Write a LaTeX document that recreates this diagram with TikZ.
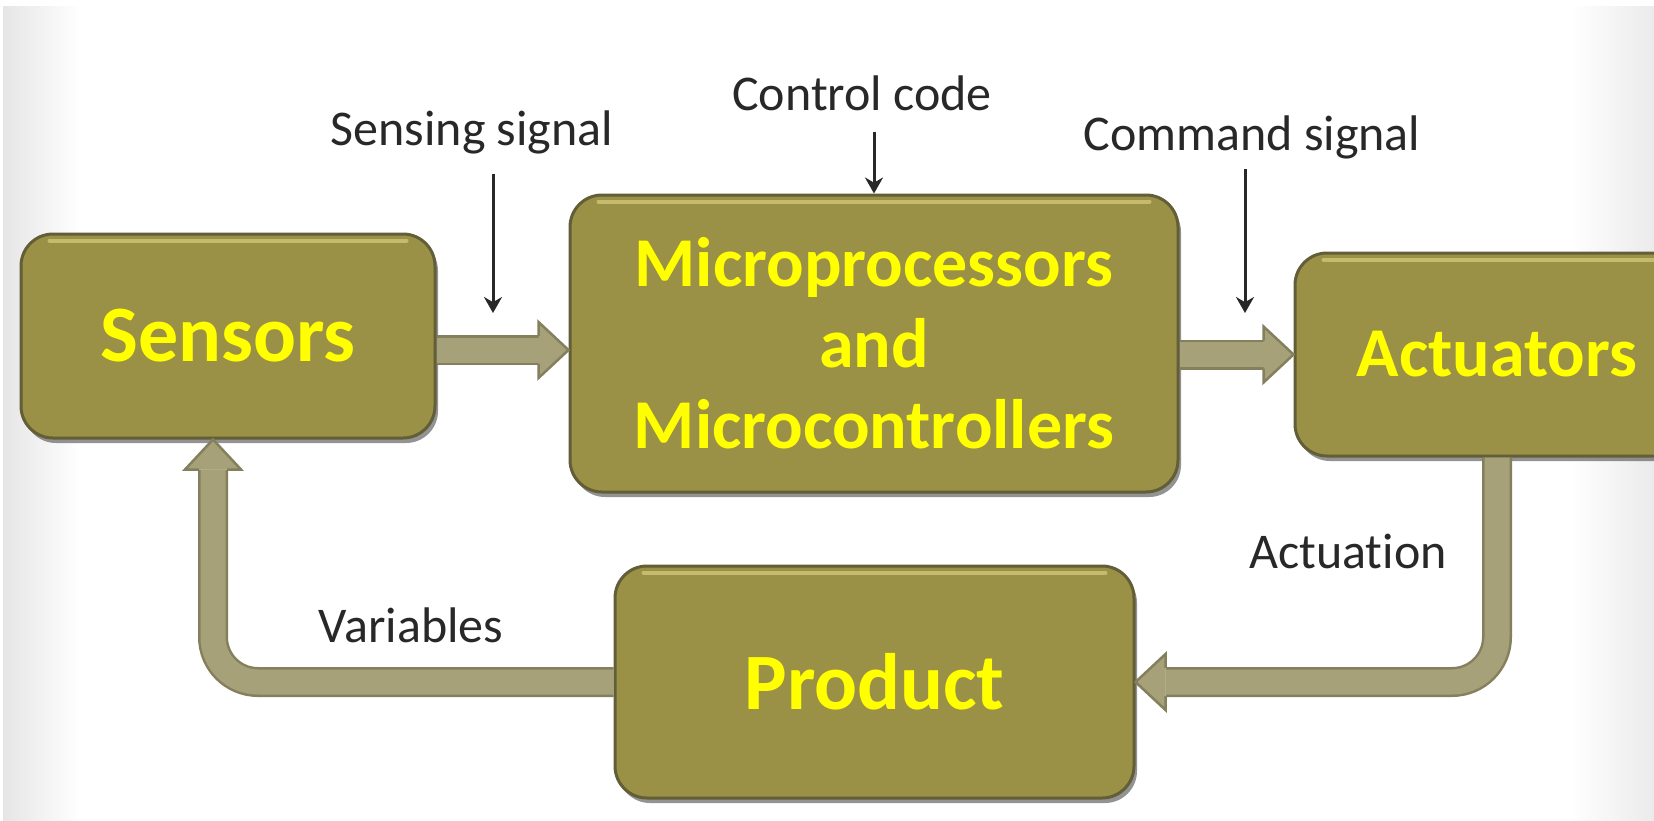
\documentclass[tikz,border=0pt]{standalone}
\usepackage{fontspec}
\setmainfont{Carlito}[Ligatures=NoCommon]
\usetikzlibrary{calc,arrows.meta,shadows}
\definecolor{boxfill}{RGB}{154,144,70}
\definecolor{boxline}{RGB}{98,94,56}
\definecolor{boxhi}{RGB}{196,188,108}
\definecolor{arrfill}{RGB}{167,161,121}
\definecolor{arrline}{RGB}{132,128,94}
\definecolor{txtyel}{RGB}{255,255,0}
\definecolor{lbl}{RGB}{40,40,40}
\begin{document}
\begin{tikzpicture}[x=1pt,y=-1pt,
 blk/.style={rounded corners=32pt, fill=boxfill, draw=boxline, line width=3pt, text=txtyel, align=center, inner sep=0pt,
   drop shadow={shadow xshift=3pt, shadow yshift=-5pt, fill=black!70, opacity=.6}},
 lab/.style={text=lbl, font=\fontsize{50}{60}\selectfont, inner sep=0pt},
 thinarr/.style={draw=lbl, line width=3pt, -{Stealth[length=16pt,width=18pt]}},
 bshaft/.style={draw=arrline, double=arrfill, double distance=25pt, line width=2.5pt},
 hiline/.style={draw=boxhi, line width=4pt, line cap=round},
 bhead/.pic={
   \fill[arrfill] (-30,-28) -- (0,0) -- (-30,28) -- cycle;
   \draw[arrline, line width=2.5pt, line join=miter] (-30,-14) -- (-30,-28) -- (0,0) -- (-30,28) -- (-30,14);
 }]
\useasboundingbox (0,0) rectangle (1654,820);
\fill[white] (0,0) rectangle (1654,820);
\shade[left color=black!10, right color=white] (3,6) rectangle (80,820);
\shade[left color=white, right color=black!8] (1570,6) rectangle (1654,820);

% boxes
\node[blk, minimum width=414pt, minimum height=204pt, font=\fontsize{80}{90}\selectfont\bfseries] (sens) at (228,336) {Sensors};
\node[blk, minimum width=608pt, minimum height=297pt, font=\fontsize{70}{81}\selectfont\bfseries] (micro) at (874,343.5) {Microprocessors\\and\\Microcontrollers};
\node[blk, minimum width=404pt, minimum height=203pt, font=\fontsize{70}{80}\selectfont\bfseries] (act) at (1497,354.5) {Actuators};
\node[blk, minimum width=519pt, minimum height=232pt, font=\fontsize{80}{90}\selectfont\bfseries] (prod) at (874.5,682) {Product};

% highlights
\foreach \n in {sens,micro,act,prod}{
  \draw[hiline] ($(\n.north west)+(30,8)$) -- ($(\n.north east)+(-30,8)$);
}

% labels
\node[lab] (lss) at (472,132) {Sensing signal};
\node[lab] (lcc) at (862,93) {Control code};
\node[lab] (lcs) at (1252,137) {Command signal};
\node[lab] (lact) at (1348,551) {Actuation};
\node[lab] (lvar) at (411,625) {Variables};

% thin arrows
\coordinate (ss1) at (493,174);
\coordinate (ss2) at (493,313);
\draw[thinarr] (ss1) -- (ss2);
\coordinate (cc1) at ($(micro.north)+(0,-62)$);
\draw[thinarr] (cc1) -- (micro.north);
\coordinate (cs1) at (1245,169);
\coordinate (cs2) at (1245,313);
\draw[thinarr] (cs1) -- (cs2);

% block arrow sensors -> micro
\coordinate (s1) at ($(sens.east)+(0,14)$);
\coordinate (s2) at (micro.west |- s1);
\draw[bshaft] (s1) -- ($(s2)+(-30,0)$);
\pic at (s2) {bhead};

% block arrow micro -> actuators
\coordinate (m1) at (micro.east |- act.west);
\draw[bshaft] (m1) -- ($(act.west)+(-30,0)$);
\pic at (act.west) {bhead};

% actuation: actuators -> product
\coordinate (a2) at (act.south |- prod.east);
\draw[bshaft, rounded corners=45pt] (act.south) -- (a2) -- ($(prod.east)+(30,0)$);
\pic[rotate=180] at (prod.east) {bhead};

% variables: product -> sensors
\coordinate (vx) at ($(sens.south)+(-15,0)$);
\coordinate (v2) at (vx |- prod.west);
\draw[bshaft, rounded corners=45pt] (prod.west) -- (v2) -- ($(vx)+(0,30)$);
\pic[rotate=90] at (vx) {bhead};
\end{tikzpicture}
\end{document}
